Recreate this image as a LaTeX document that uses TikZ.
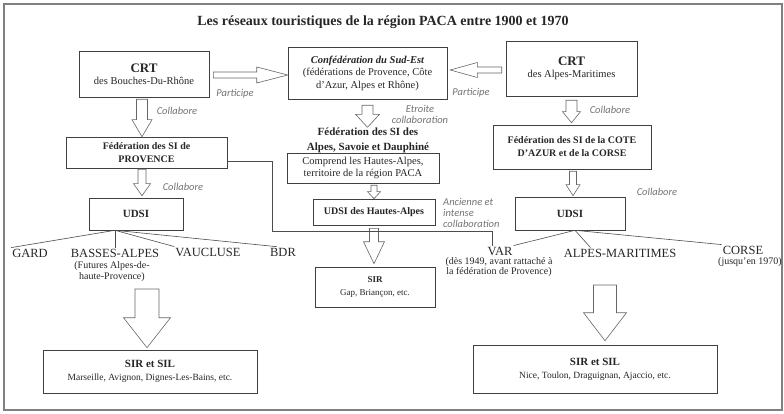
\documentclass[tikz,border=0pt]{standalone}
\usepackage{fontspec}
\setmainfont{Liberation Serif}
\newfontfamily\labelfont{Carlito}
\usetikzlibrary{calc}

% hollow block arrow pointing down: start, end, shaft half width, head half width, head length
\newcommand{\blockdown}[5]{%
  \draw[blockarrow] let \p1=(#1), \p2=(#2) in
    (\x1-#3pt,\y1) -- (\x1+#3pt,\y1) -- (\x1+#3pt,\y2+#5pt) -- (\x1+#4pt,\y2+#5pt)
    -- (\x1,\y2) -- (\x1-#4pt,\y2+#5pt) -- (\x1-#3pt,\y2+#5pt) -- cycle;}
% hollow block arrow sideways: start, end, shaft half width, head half width, signed head length
\newcommand{\blockside}[5]{%
  \draw[blockarrow] let \p1=(#1), \p2=(#2) in
    (\x1,\y1-#3pt) -- ({\x2+(#5pt)},\y1-#3pt) -- ({\x2+(#5pt)},\y1-#4pt)
    -- (\x2,\y1) -- ({\x2+(#5pt)},\y1+#4pt) -- ({\x2+(#5pt)},\y1+#3pt) -- (\x1,\y1+#3pt) -- cycle;}

\newcommand{\crtfont}{\fontsize{13}{15}\bfseries\selectfont}

\begin{document}
\begin{tikzpicture}[x=1pt,y=-1pt,
    box/.style={draw=black!75, line width=0.6pt, fill=white, align=center, inner sep=0pt,
      text=black!85, font=\fontsize{10.5}{12.5}\selectfont},
    fedbox/.style={box, font=\fontsize{10}{13}\bfseries\selectfont},
    dept/.style={inner sep=1pt, text=black!85, font=\fontsize{12.5}{14}\selectfont},
    deptnote/.style={inner sep=1pt, align=center, text=black!85, font=\fontsize{10}{10.5}\selectfont},
    note/.style={inner sep=0pt, align=center, text=black!55, font=\labelfont\itshape\fontsize{10.5}{11}\selectfont},
    blockarrow/.style={draw=black!60, line width=0.6pt, fill=white},
    link/.style={draw=black!70, line width=0.6pt}]

  \useasboundingbox (0,0) rectangle (784,414);
  \draw[black!50, line width=1.2pt] (4,4) rectangle (782,410);

  \node[font=\fontsize{14}{16}\bfseries\selectfont, text=black!85] (title) at (383,22)
    {Les réseaux touristiques de la région PACA entre 1900 et 1970};

  % top row
  \node[box, minimum width=130pt, minimum height=46pt] (crtbdr) at (144,74)
    {{\crtfont CRT}\\des Bouches-Du-Rhône};
  \node[box, minimum width=159pt, minimum height=52pt] (confed) at (367.5,73)
    {{\bfseries\itshape Confédération du Sud-Est}\\(fédérations de Provence, Côte\\d'Azur, Alpes et Rhône)};
  \node[box, minimum width=131pt, minimum height=55pt] (crtam) at (571.5,68.5)
    {{\crtfont CRT}\\des Alpes-Maritimes};

  % federations
  \node[fedbox, minimum width=161pt, minimum height=31pt] (fedprov) at (146.5,152.5)
    {Fédération des SI de\\PROVENCE};
  \node[inner sep=0pt, align=center, text=black!85, font=\fontsize{11}{15}\bfseries\selectfont]
    (fedalpes) at (368,140) {Fédération des SI des\\Alpes, Savoie et Dauphiné};
  \node[box, minimum width=152pt, minimum height=30pt] (comprend) at (363,168)
    {Comprend les Hautes-Alpes,\\territoire de la région PACA};
  \node[fedbox, minimum width=158pt, minimum height=44pt] (fedcote) at (572,147)
    {Fédération des SI de la COTE\\D'AZUR et de la CORSE};

  % unions
  \node[fedbox, font=\fontsize{11}{13}\bfseries\selectfont, minimum width=94pt, minimum height=32pt] (udsil) at (136,214) {UDSI};
  \node[fedbox, minimum width=122pt, minimum height=26pt] (udsiha) at (374,212) {UDSI des Hautes-Alpes};
  \node[fedbox, font=\fontsize{11}{13}\bfseries\selectfont, minimum width=110pt, minimum height=33pt] (udsir) at (570,213.5) {UDSI};

  % departments
  \node[dept] (gard) at (30,253) {GARD};
  \node[dept] (basses) at (115,253) {BASSES-ALPES};
  \node[deptnote] (basnote) at (112,271.5) {(Futures Alpes-de-\\haute-Provence)};
  \node[dept] (vaucluse) at (208,252) {VAUCLUSE};
  \node[dept] (bdr) at (283,252) {BDR};
  \node[dept] (var) at (500,251) {VAR};
  \node[deptnote] (varnote) at (499,267) {(dès 1949, avant rattaché à\\la fédération de Provence)};
  \node[dept] (alpesmar) at (620,253) {ALPES-MARITIMES};
  \node[dept] (corse) at (743,250) {CORSE};
  \node[deptnote] (corsenote) at (750,262) {(jusqu'en 1970)};

  % bottom boxes
  \node[box, minimum width=120pt, minimum height=40pt] (sirha) at (375,287)
    {{\bfseries\fontsize{9}{11}\selectfont SIR}\\{\fontsize{9}{11}\selectfont Gap, Briançon, etc.}};
  \node[box, minimum width=214pt, minimum height=43pt, font=\fontsize{9.5}{13}\selectfont] (sirl) at (150,371.5)
    {{\bfseries\fontsize{11}{13}\selectfont SIR et SIL}\\Marseille, Avignon, Dignes-Les-Bains, etc.};
  \node[box, minimum width=244pt, minimum height=48pt, font=\fontsize{9.5}{13}\selectfont] (sirr) at (595,369)
    {{\bfseries\fontsize{11}{13}\selectfont SIR et SIL}\\Nice, Toulon, Draguignan, Ajaccio, etc.};

  % labels
  \node[note] (part1) at (235,94) {Participe};
  \node[note] (part2) at (471,93) {Participe};
  \node[note] (coll1) at (177,111) {Collabore};
  \node[note] (etroite) at (420,114) {Etroite\\collaboration};
  \node[note] (coll2) at (610,110) {Collabore};
  \node[note] (coll3) at (183,187) {Collabore};
  \node[note] (coll4) at (657,192) {Collabore};
  \node[note, align=left, anchor=west] (ancienne) at (443,212.5) {Ancienne et\\intense\\collaboration};

  % block arrows
  \blockside{[xshift=4pt,yshift=-1pt]crtbdr.east}{confed.west}{3}{8}{-31}
  \blockside{[xshift=-4pt,yshift=-1.5pt]crtam.west}{[xshift=3pt]confed.east}{3}{7.5}{27}
  \blockdown{[xshift=-2pt,yshift=-2pt]crtbdr.south}{fedprov.north}{5.5}{10}{17}
  \blockdown{[yshift=-6pt]confed.south}{fedalpes.north}{5.5}{12}{13}
  \blockdown{[yshift=-4pt]crtam.south}{[yshift=2pt]fedcote.north}{5.5}{9}{11}
  \blockdown{[xshift=-4.5pt,yshift=-1pt]fedprov.south}{[yshift=2pt]udsil.north}{4}{8.5}{12}
  \blockdown{[xshift=11pt,yshift=-2pt]comprend.south}{udsiha.north}{3}{6.5}{7}
  \blockdown{[xshift=1pt,yshift=-2pt]fedcote.south}{[yshift=1pt]udsir.north}{3.5}{7}{11}
  \blockdown{[yshift=-3pt]udsiha.south}{[yshift=3pt]sirha.north}{4.5}{10.5}{22}
  \coordinate (depl) at (147,289);
  \coordinate (depr) at (605,285);
  \blockdown{depl}{[yshift=2pt]sirl.north}{12}{23.5}{30}
  \blockdown{depr}{[yshift=4pt]sirr.north}{11.5}{21.5}{28}

  % links
  \coordinate (bend) at (272,231);
  \draw[link] ([yshift=-9pt]fedprov.east) -| (bend) -| ([xshift=-8pt]var.north);
  \coordinate (hubl) at ([xshift=-21pt]udsil.south);
  \draw[link] (hubl) -- (gard.north west);
  \draw[link] (hubl) -- (basses.north);
  \draw[link] (hubl) -- (vaucluse.north west);
  \draw[link] (hubl) -- ([xshift=8pt]bdr.north west);
  \coordinate (hubr) at ([xshift=5pt]udsir.south);
  \draw[link] (hubr) -- (var.north east);
  \draw[link] (hubr) -- ([xshift=28pt]alpesmar.north west);
  \draw[link] (hubr) -- (corse.north west);
\end{tikzpicture}
\end{document}
